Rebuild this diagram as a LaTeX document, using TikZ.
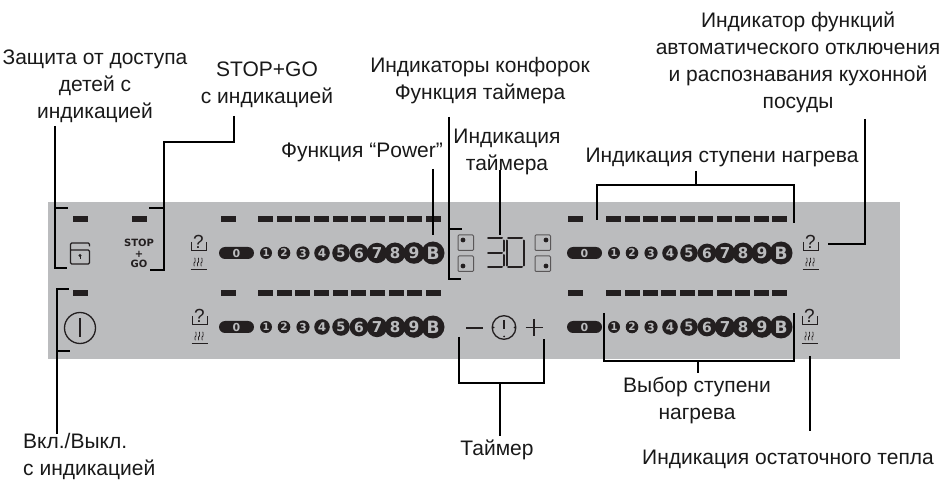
\documentclass[tikz,border=0pt]{standalone}
\usepackage{fontspec}
\setmainfont{Liberation Sans}
\setsansfont{DejaVu Sans}
\usepackage{tikz}
\definecolor{panelgrey}{HTML}{BBBCBE}
\definecolor{inkdark}{HTML}{231F20}
\tikzset{
  lead/.style={draw=black, line width=1.6pt},
  caption/.style={align=center, inner sep=0, text=black!90, font=\fontsize{21}{27}\selectfont},
  thinicon/.style={draw=inkdark, line width=0.8pt},
  segment/.style={draw=inkdark, line width=2pt, line cap=round},
  keyglyph/.style={inner sep=0, text=panelgrey, font=\sffamily\bfseries}
}
\newcommand{\lampbar}[2]{
\fill[inkdark] (#1,#2-3) rectangle (#1+15,#2+3);
}
% one row of heat levels: name, x of pill, y
\newcommand{\levelrow}[3]{
\fill[inkdark, rounded corners=6pt] (#2,#3-6) rectangle (#2+35,#3+6);
\node[keyglyph, font=\sffamily\bfseries\fontsize{11}{11}\selectfont] (#1zero) at (#2+17.5,#3) {0};
\foreach \dx/\rad/\fs/\lab in {47/6/10/1, 65/6.3/10.5/2, 84/6.6/11/3, 103/7.8/12/4, 122/8.8/13/5, 140/9.4/14/6, 158/10.2/15/7, 176/10.5/15/8, 195/10.8/15.5/9, 214/11.5/17/B}{
  \fill[inkdark] (#2+\dx,#3) circle (\rad pt);
  \node[keyglyph, font=\sffamily\bfseries\fontsize{\fs}{\fs}\selectfont] (#1d\lab) at (#2+\dx,#3) {\lab};
}
}
% pot symbol and residual heat symbol
\newcommand{\potheat}[3]{
\node[inner sep=0, text=inkdark, font=\fontsize{19}{19}\selectfont] (#1ask) at (#2+7.5,#3-8) {?};
\draw[thinicon] (#2,#3-8) -- (#2,#3) -- (#2+15,#3) -- (#2+15,#3-8);
\foreach \dx in {3.5,7,10.5}{
  \draw[thinicon, line width=0.7pt] (#2+\dx,#3+8) to[out=60,in=-60] (#2+\dx,#3+12.5) to[out=120,in=-120] (#2+\dx,#3+16);
}
\draw[thinicon] (#2-0.5,#3+19) -- (#2+15.5,#3+19);
}

\begin{document}
\begin{tikzpicture}[x=1pt, y=-1pt]
\useasboundingbox (0,0) rectangle (946,481);
\fill[panelgrey] (48,202) rectangle (900,359);

% indicator bars
\foreach \yy in {218.7,292.7}{
  \foreach \xx in {221,258,276.7,295.4,314,332.8,351.4,370,388.6,407.2,425.5,
                   568,606,624.5,642.5,661,680,698,717,735,754,772}{
    \lampbar{\xx}{\yy}
  }
}
\lampbar{73}{218.7}
\lampbar{132}{218.7}
\lampbar{73}{292.7}

\levelrow{upL}{219}{253}
\levelrow{upR}{567}{253}
\levelrow{loL}{219}{327}
\levelrow{loR}{567}{327}

\potheat{upLp}{191}{250}
\potheat{loLp}{192}{324}
\potheat{upRp}{803}{250}
\potheat{loRp}{802}{324}

% lock
\draw[thinicon, line width=1.3pt, rounded corners=1.2pt] (89.5,246.5) -- (89.5,243) -- (70.5,243) -- (70.5,264) -- (89.5,264) -- (89.5,250) -- (70.5,250);
\fill[inkdark] (80,255.5) circle (1.7pt);
\draw[inkdark, line width=1pt] (80,255.5) -- (80,259.5);
\node[inner sep=0, align=center, text=inkdark, font=\sffamily\bfseries\fontsize{10}{10.4}\selectfont] (stopgo) at (139,253.5) {STOP\\+\\GO};

% power
\draw[thinicon, line width=1.3pt] (80,328) circle (15.5pt);
\draw[thinicon, line width=1.3pt] (80,318) -- (80,337);

% cooking zone squares
\foreach \xx/\yy/\dotx/\doty in {458/235/463/240, 458/256/463/266, 535/235/546/240, 535/256/546/266}{
  \draw[draw=inkdark!75, line width=1pt, rounded corners=1pt] (\xx,\yy) rectangle (\xx+15.5,\yy+15.5);
  \fill[inkdark] (\dotx,\doty) circle (2.4pt);
}

% timer digits
\draw[segment] (488,238.5) -- (502,238.5);
\draw[segment] (488,253) -- (502,253);
\draw[segment] (488,267.5) -- (502,267.5);
\draw[segment] (503.5,240.5) -- (503.5,251);
\draw[segment] (503.5,255) -- (503.5,265.5);
\draw[segment] (508,238.5) -- (522,238.5);
\draw[segment] (508,267.5) -- (522,267.5);
\draw[segment] (506.5,240.5) -- (506.5,265.5);
\draw[segment] (523.5,240.5) -- (523.5,265.5);

% timer keys
\draw[thinicon, line width=1.3pt] (466,328) -- (483,328);
\draw[thinicon, line width=1.3pt] (504,327.5) circle (11.8pt);
\draw[thinicon, line width=1.1pt] (504,320) -- (504,329);
\foreach \xx/\yy in {493.5/327.5, 514.5/327.5, 504/336.5}{
  \fill[inkdark] (\xx,\yy) circle (1pt);
}
\draw[thinicon, line width=1.3pt] (525.5,327.5) -- (542.5,327.5);
\draw[thinicon, line width=1.3pt] (534,319) -- (534,336);

% captions
\node[caption] (childlock) at (95,86.5) {Защита от доступа\\детей с\\индикацией};
\node[caption] (stoplabel) at (267,85) {STOP+GO\\с индикацией};
\node[caption] (zones) at (480,80.5) {Индикаторы конфорок\\Функция таймера};
\node[caption] (powerlabel) at (362,152) {Функция “Power”};
\node[caption] (timershow) at (507,152) {Индикация\\таймера};
\node[caption] (autooff) at (798,62) {Индикатор функций\\автоматического отключения\\и распознавания кухонной\\посуды};
\node[caption] (heatshow) at (722,157) {Индикация ступени нагрева};
\node[caption] (heatpick) at (697,400.5) {Выбор ступени\\нагрева};
\node[caption] (timerlabel) at (497,449.5) {Таймер};
\node[caption] (residual) at (788,459.5) {Индикация остаточного тепла};
\node[caption, align=left, anchor=west] (onoff) at (23,456.5) {Вкл./Выкл.\\с индикацией};

% leader ends
\coordinate (lockA) at (55,126);
\coordinate (lockB) at (55,268);
\coordinate (lockC) at (67,268);
\coordinate (lockD) at (55,208);
\coordinate (lockE) at (68,208);
\coordinate (stopA) at (234,116);
\coordinate (stopB) at (234,142);
\coordinate (stopC) at (164,142);
\coordinate (stopD) at (164,270);
\coordinate (stopE) at (150,270);
\coordinate (stopF) at (164,208);
\coordinate (stopG) at (149,208);
\coordinate (pwrA) at (57,434);
\coordinate (pwrB) at (57,289);
\coordinate (pwrC) at (69,289);
\coordinate (pwrD) at (57,351);
\coordinate (pwrE) at (70,351);
\coordinate (boostA) at (433,169);
\coordinate (boostB) at (433,235);
\coordinate (zoneA) at (449,117);
\coordinate (zoneB) at (449,279);
\coordinate (zoneC) at (461,279);
\coordinate (zoneD) at (449,229);
\coordinate (zoneE) at (462,229);
\coordinate (showA) at (500,170);
\coordinate (showB) at (500,235);
\coordinate (stepA) at (696,171);
\coordinate (stepB) at (696,185);
\coordinate (stepC) at (597,220);
\coordinate (stepD) at (597,185);
\coordinate (stepE) at (794,185);
\coordinate (stepF) at (794,223);
\coordinate (autoA) at (865,119);
\coordinate (autoB) at (865,244);
\coordinate (autoC) at (828,244);
\coordinate (timeA) at (459,337);
\coordinate (timeB) at (459,383);
\coordinate (timeC) at (544,383);
\coordinate (timeD) at (544,339);
\coordinate (timeE) at (500,383);
\coordinate (timeF) at (500,436);
\coordinate (pickA) at (604,313);
\coordinate (pickB) at (604,361);
\coordinate (pickC) at (794,361);
\coordinate (pickD) at (794,313);
\coordinate (pickE) at (698,361);
\coordinate (pickF) at (698,373);
\coordinate (warmA) at (810,356);
\coordinate (warmB) at (810,431);

\draw[lead] (lockA) -- (lockB) -- (lockC);
\draw[lead] (lockD) -- (lockE);
\draw[lead] (stopA) -- (stopB) -- (stopC) -- (stopD) -- (stopE);
\draw[lead] (stopF) -- (stopG);
\draw[lead] (pwrA) -- (pwrB) -- (pwrC);
\draw[lead] (pwrD) -- (pwrE);
\draw[lead] (boostA) -- (boostB);
\draw[lead] (zoneA) -- (zoneB) -- (zoneC);
\draw[lead] (zoneD) -- (zoneE);
\draw[lead] (showA) -- (showB);
\draw[lead] (stepC) -- (stepD) -- (stepE) -- (stepF);
\draw[lead] (stepA) -- (stepB);
\draw[lead] (autoA) -- (autoB) -- (autoC);
\draw[lead] (timeA) -- (timeB) -- (timeC) -- (timeD);
\draw[lead] (timeE) -- (timeF);
\draw[lead] (pickA) -- (pickB) -- (pickC) -- (pickD);
\draw[lead] (pickE) -- (pickF);
\draw[lead] (warmA) -- (warmB);
\end{tikzpicture}
\end{document}
